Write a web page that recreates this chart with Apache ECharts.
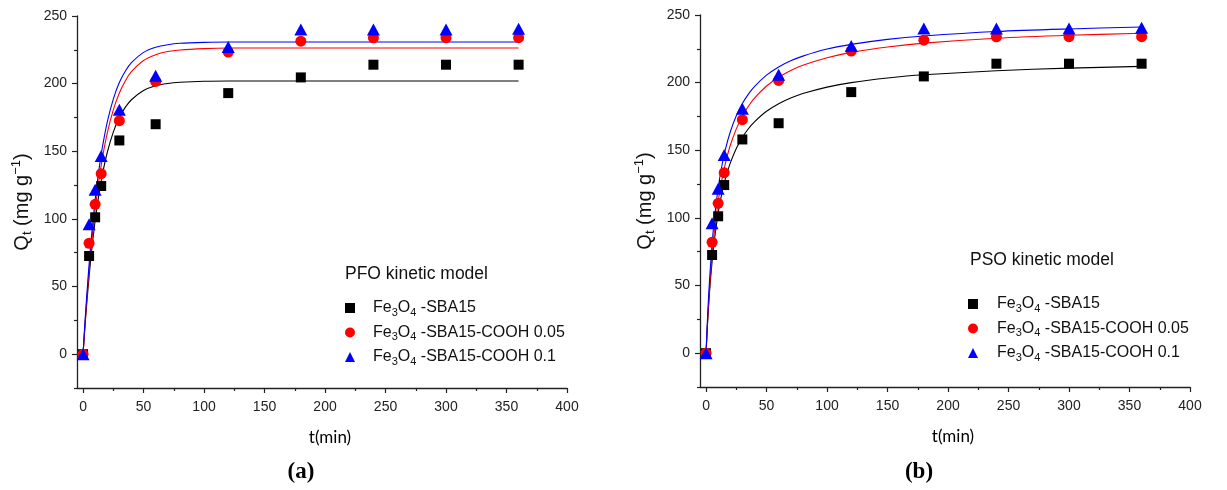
<!DOCTYPE html>
<html>
<head>
<meta charset="utf-8">
<script src="https://cdn.jsdelivr.net/npm/echarts@6/dist/echarts.min.js"></script>
<style>html,body{margin:0;padding:0;background:#fff}#c{width:1227px;height:490px}</style>
</head>
<body>
<div id="c"></div>
<script>
// ---- data ----
const seriesNames = ['Fe3O4 -SBA15', 'Fe3O4 -SBA15-COOH 0.05', 'Fe3O4 -SBA15-COOH 0.1'];
const times = [0, 5, 10, 15, 30, 60, 120, 180, 240, 300, 360];
const qSBA15 = [0, 72.6, 101.2, 124.3, 158, 170, 193, 204.6, 214, 214, 214];
const qCOOH005 = [0, 82, 110.8, 133.4, 172.6, 201.6, 223.3, 231.4, 233.9, 234, 234];
const qCOOH01 = [0, 96, 121.5, 146.5, 180.7, 205.8, 227, 240, 240, 240, 240.5];

const curveT = [0, 1, 2, 3, 5, 7, 10, 13, 16, 20, 25, 30, 35, 40, 50, 60, 70, 80, 100, 120, 150, 180, 240, 300, 360];
const pfoSBA15 = [0, 13.1, 25.3, 36.8, 57.5, 75.6, 98.6, 117.5, 132.9, 149.1, 164.2, 174.9, 182.6, 188.1, 194.9, 198.4, 200.1, 201.0, 201.8, 202, 202, 202, 202, 202, 202];
const pfoCOOH005 = [0, 14.0, 27.2, 39.5, 62.0, 81.7, 107.0, 127.8, 145.0, 163.4, 180.6, 193.1, 202.2, 208.8, 217.1, 221.4, 223.7, 224.9, 225.9, 226.3, 226.3, 226.3, 226.3, 226.3, 226.3];
const pfoCOOH01 = [0, 15.2, 29.3, 42.6, 66.5, 87.4, 113.9, 135.5, 153.0, 171.6, 188.6, 200.8, 209.4, 215.6, 223.1, 226.9, 228.8, 229.8, 230.5, 230.8, 230.8, 230.8, 230.8, 230.8, 230.8];
const psoSBA15 = [0, 18.1, 33.4, 46.5, 67.9, 84.5, 103.6, 117.9, 129.0, 140.5, 151.3, 159.5, 165.9, 171.0, 178.8, 184.4, 188.6, 191.9, 196.7, 200.0, 203.4, 205.8, 208.8, 210.7, 212.0];
const psoCOOH005 = [0, 19.0, 35.3, 49.4, 72.5, 90.8, 111.9, 127.9, 140.4, 153.5, 165.8, 175.2, 182.5, 188.5, 197.5, 204.0, 209.0, 212.8, 218.4, 222.4, 226.4, 229.2, 232.8, 235.0, 236.5];
const psoCOOH01 = [0, 21.9, 40.2, 55.8, 80.9, 100.2, 122.0, 138.2, 150.7, 163.5, 175.5, 184.5, 191.5, 197.1, 205.5, 211.6, 216.1, 219.6, 224.8, 228.3, 232.0, 234.5, 237.8, 239.7, 241.1];

const xMajor = [0, 50, 100, 150, 200, 250, 300, 350, 400];
const xMinor = [25, 75, 125, 175, 225, 275, 325, 375];
const yMajor = [0, 50, 100, 150, 200, 250];
const yMinor = [-25, 25, 75, 125, 175, 225];
const panelTitles = ['PFO kinetic model', 'PSO kinetic model'];
const panelLabels = ['(a)', '(b)'];

// ---- chart ----
const colors = ['#000000', '#ff0000', '#0000ff'];
const symbols = ['rect', 'circle', 'triangle'];
const symSizes = [10, 11, [13, 12]];
const axisColor = '#222222';
const FONT = 'Liberation Sans, Arial, sans-serif';

const grids = [
  {left: 77, right: 660, top: 16, bottom: 102},
  {left: 700, right: 37, top: 15, bottom: 103}
];

const xAxes = [], yAxes = [], series = [];
const pairs = (xs, ys) => xs.map((x, i) => [x, ys[i]]);
const curves = [[pfoSBA15, pfoCOOH005, pfoCOOH01], [psoSBA15, psoCOOH005, psoCOOH01]];
const points = [qSBA15, qCOOH005, qCOOH01];

grids.forEach((g, gi) => {
  xAxes.push({
    type: 'value', gridIndex: gi, min: -5, max: 400, position: 'bottom',
    name: 't(min)', nameLocation: 'middle', nameGap: 41,
    nameTextStyle: {fontFamily: 'Lato, Open Sans, sans-serif', fontSize: 17, color: '#000', padding: [0, 0, 0, 16]},
    axisLine: {onZero: false, lineStyle: {color: axisColor, width: 1.3}},
    axisTick: {customValues: xMajor, length: 5, lineStyle: {color: axisColor, width: 1.2}},
    axisLabel: {customValues: xMajor, fontFamily: FONT, fontSize: 14, color: '#222', margin: 12},
    splitLine: {show: false}
  });
  xAxes.push({
    type: 'value', gridIndex: gi, min: -5, max: 400, position: 'bottom',
    axisLine: {show: false, onZero: false},
    axisTick: {customValues: xMinor, length: 3, lineStyle: {color: axisColor, width: 1.2}},
    axisLabel: {show: false},
    splitLine: {show: false}
  });
  yAxes.push({
    type: 'value', gridIndex: gi, min: -25, max: 250, position: 'left',
    name: 'Q{sub|t} (mg g{sup|\u22121})', nameLocation: 'middle', nameRotate: 90, nameGap: 43,
    nameTextStyle: {
      fontFamily: FONT, fontSize: 20, color: '#111', lineHeight: 24,
      rich: {
        sub: {fontFamily: FONT, fontSize: 13, lineHeight: 13, verticalAlign: 'bottom', color: '#111'},
        sup: {fontFamily: FONT, fontSize: 13, lineHeight: 13, verticalAlign: 'top', color: '#111'}
      }
    },
    axisLine: {show: true, onZero: false, lineStyle: {color: axisColor, width: 1.3}},
    axisTick: {show: true, customValues: yMajor, length: 5, lineStyle: {color: axisColor, width: 1.2}},
    axisLabel: {customValues: yMajor, fontFamily: FONT, fontSize: 14, color: '#222', margin: 10},
    splitLine: {show: false}
  });
  yAxes.push({
    type: 'value', gridIndex: gi, min: -25, max: 250, position: 'left',
    axisLine: {show: false, onZero: false},
    axisTick: {show: true, customValues: yMinor, length: 3, lineStyle: {color: axisColor, width: 1.2}},
    axisLabel: {show: false},
    splitLine: {show: false}
  });
  // fitted curves
  curves[gi].forEach((c, si) => {
    series.push({
      type: 'line', name: 'fit' + gi + '_' + si, xAxisIndex: gi * 2, yAxisIndex: gi * 2,
      data: pairs(curveT, c), smooth: 0.3, showSymbol: false, symbol: 'none',
      lineStyle: {color: colors[si], width: 1.1}, z: 2, silent: true
    });
  });
  // measured points
  points.forEach((p, si) => {
    series.push({
      type: 'scatter', name: seriesNames[si], xAxisIndex: gi * 2, yAxisIndex: gi * 2,
      data: pairs(times, p), symbol: symbols[si], symbolSize: symSizes[si],
      itemStyle: {color: colors[si], opacity: 1}, z: 3
    });
  });
});

const fmt = name => '{g|}' + name.replace('Fe3O4', 'Fe{sub|3}O{sub|4}');
const mkLegend = (left, top, gap) => ({
  orient: 'vertical', left: left, top: top, padding: 0, itemGap: 4.5, itemWidth: 10, itemHeight: 10,
  data: seriesNames.map(n => ({name: n})),
  selectedMode: false,
  formatter: fmt,
  textStyle: {fontFamily: FONT, fontSize: 16, color: '#111', lineHeight: 20,
    rich: {
      g: {width: gap},
      sub: {fontFamily: FONT, fontSize: 11, lineHeight: 12, verticalAlign: 'bottom', color: '#111'}
    }}
});

const option = {
  backgroundColor: '#fff',
  animation: false,
  grid: grids,
  xAxis: xAxes,
  yAxis: yAxes,
  series: series,
  legend: [mkLegend(345, 298, 13), mkLegend(968, 294, 14)],
  title: [
    {text: panelTitles[0], left: 345, top: 265, padding: 0, textStyle: {fontFamily: FONT, fontSize: 17.5, fontWeight: 'normal', color: '#111'}},
    {text: panelTitles[1], left: 970, top: 251, padding: 0, textStyle: {fontFamily: FONT, fontSize: 17.5, fontWeight: 'normal', color: '#111'}}
  ],
  graphic: [
    {type: 'text', x: 301, y: 472, style: {text: panelLabels[0], fontFamily: 'Liberation Serif, serif', fontWeight: 'bold', fontSize: 23, fill: '#000', align: 'center', verticalAlign: 'middle'}},
    {type: 'text', x: 919, y: 472, style: {text: panelLabels[1], fontFamily: 'Liberation Serif, serif', fontWeight: 'bold', fontSize: 23, fill: '#000', align: 'center', verticalAlign: 'middle'}}
  ]
};

const chart = echarts.init(document.getElementById('c'), null, {renderer: 'canvas'});
chart.setOption(option);
</script>
</body>
</html>
